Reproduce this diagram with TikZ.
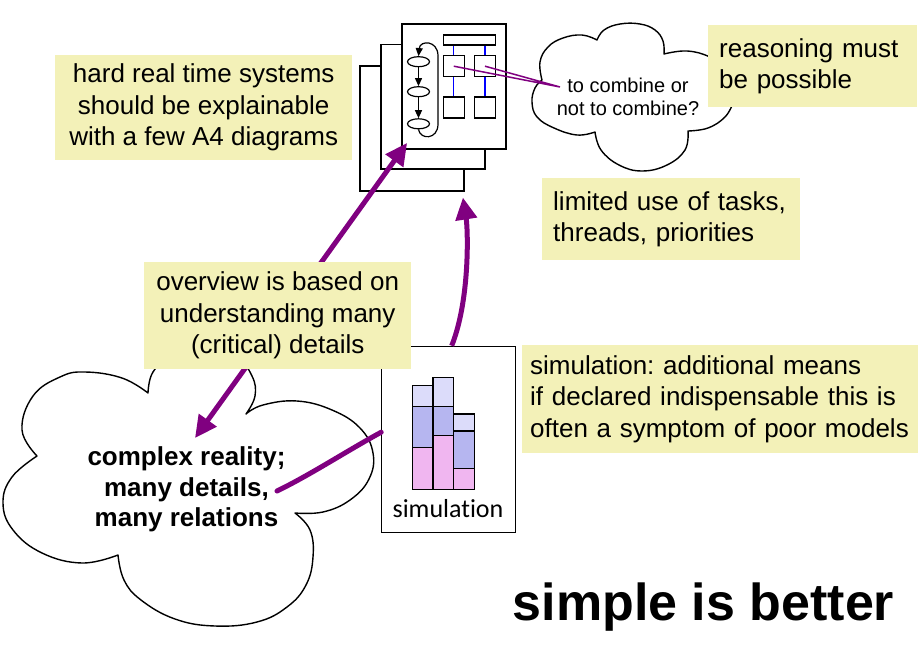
\documentclass[tikz,border=0pt]{standalone}
\usepackage{fontspec}
\setmainfont{Liberation Sans}
\newfontfamily\simfont[Ligatures=NoCommon]{Carlito}
\usepackage{tikz}
\usetikzlibrary{arrows.meta, positioning, shapes.geometric, calc}
\definecolor{notefill}{HTML}{F3F1B8}
\definecolor{relpurple}{HTML}{800080}
\definecolor{barpink}{HTML}{F0B6F0}
\definecolor{barlav}{HTML}{B6B6F0}
\definecolor{barpale}{HTML}{DCDCFA}
\frenchspacing
\begin{document}
\begin{tikzpicture}[x=1pt, y=-1pt,
  every node/.style={font=\fontsize{26}{31.5}\selectfont},
  >={Triangle[length=22pt,width=21pt]},
  note/.style={fill=notefill, inner sep=0pt, anchor=north west},
  page/.style={draw, fill=white, line width=1.8pt, minimum width=104pt, minimum height=124.5pt, inner sep=0pt},
  blk/.style={draw, line width=1.3pt, minimum size=21pt, inner sep=0pt},
  oval/.style={draw, ellipse, line width=1.2pt, minimum width=22pt, minimum height=10pt, inner sep=0pt},
  flowtip/.style={line width=1.2pt, -{Triangle[length=8pt,width=7pt]}},
  bigarrow/.style={relpurple, line width=5pt},
  cloudline/.style={draw, fill=white, line width=1.4pt, line join=round}]
  \fill[white] (0,0) rectangle (920,660);
  \useasboundingbox (0,0) rectangle (920,660);
  % the big cloud: complex reality
  \path[cloudline]
    plot[smooth, tension=0.7] coordinates {(118,555) (82,563) (42,553) (13,530) (3,503) (12,477) (37,456)}
    -- plot[smooth, tension=0.7] coordinates {(37,456) (22,430) (33,396) (60,377) (85,372) (122,378) (148,393)}
    -- plot[smooth, tension=0.7] coordinates {(148,393) (153,372) (172,356) (205,349) (236,357) (252,376) (255,396) (246,414)}
    -- plot[smooth, tension=0.7] coordinates {(246,414) (263,405) (297,401) (332,410) (360,428) (373,453) (369,479) (350,500) (323,512) (295,513)}
    -- plot[smooth, tension=0.7] coordinates {(295,513) (310,530) (313,557) (306,585) (287,607) (257,622) (215,626) (175,619) (141,600) (124,580) (118,555)}
    -- cycle;
  % the small cloud: the question
  \path[cloudline]
    plot[smooth, tension=0.7] coordinates {(595,132) (577,135) (554,128) (537,117) (532,102) (535,88) (542,80)}
    -- plot[smooth, tension=0.7] coordinates {(542,80) (540,62) (548,47) (563,38) (582,35) (597,40)}
    -- plot[smooth, tension=0.7] coordinates {(597,40) (604,30) (620,24) (640,24) (655,30) (663,41) (664,54)}
    -- plot[smooth, tension=0.7] coordinates {(664,54) (687,51) (710,57) (730,70) (738,88) (733,103)}
    -- plot[smooth, tension=0.7] coordinates {(733,103) (725,117) (708,128) (688,131)}
    -- plot[smooth, tension=0.7] coordinates {(688,131) (685,150) (667,165) (642,171) (619,165) (601,150) (595,132)}
    -- cycle;
  % a stack of A4 diagrams
  \node[page] (pgc) at (412,128.4) {};
  \node[page] (pgb) at (433,106.8) {};
  \node[page] (pga) at (453.7,86.5) {};
  \node[draw, line width=1.3pt, minimum width=52.4pt, minimum height=10pt, inner sep=0pt] (bar) at (469.5,40) {};
  \node[blk] (blka) at (453.8,66.2) {};
  \node[blk] (blkb) at (485,66.2) {};
  \node[blk] (blkc) at (453.8,107.6) {};
  \node[blk] (blkd) at (485,107.6) {};
  \foreach \b/\c in {blka/blkc, blkb/blkd}
    \draw[blue, line width=1.3pt] (\b.north |- bar.south) -- (\b.north) (\b.south) -- (\c.north);
  \node[oval] (loopa) at (418.5,61.7) {};
  \node[oval] (loopb) at (418.5,91.7) {};
  \node[oval] (loopc) at (418.5,123.8) {};
  \draw[flowtip] (loopa) -- (loopb);
  \draw[flowtip] (loopb) -- (loopc);
  \draw[flowtip] (loopc.south) .. controls (420,140) and (438,140) .. (438,124)
    -- (438,56) .. controls (438,40) and (420,40) .. (loopa.north);
  % simulation sheet
  \node[draw, fill=white, line width=1pt, minimum width=134pt, minimum height=186pt, inner sep=0pt] (sim) at (448.7,439.2) {};
  \foreach \x/\p/\m/\t in {412.3/447.3/406.3/385.3, 432.9/435.3/406.3/377.3, 453.5/468.3/431/414} {
    \filldraw[fill=barpink, line width=1.2pt] (\x,489.3) rectangle (\x+20.6,\p);
    \filldraw[fill=barlav, line width=1.2pt] (\x,\p) rectangle (\x+20.6,\m);
    \filldraw[fill=barpale, line width=1.2pt] (\x,\m) rectangle (\x+20.6,\t);
  }
  \node[font=\simfont\fontsize{26}{30}\selectfont, anchor=base] (simlabel) at (448,517) {simulation};
  % purple relations
  \coordinate (realtip) at (195,438);
  \coordinate (detailpt) at (277,491);
  \coordinate (askpt) at (560,87);
  \draw[bigarrow, <->] (realtip) -- ($(pga.south west)+(6.3,-6.7)$);
  \draw[bigarrow, ->] ($(sim.north)+(3,0)$) .. controls (470,300) and (468,230) .. ($(pgc.south east)+(-2,6)$);
  \draw[bigarrow, line cap=round] ($(sim.west)+(0,-7)$) .. controls (345,452) and (310,475) .. (detailpt);
  \draw[relpurple, line width=1.5pt] (blka.center) -- (askpt) (blkb.center) -- (askpt);
  % yellow notes
  \node[note, minimum width=297pt, minimum height=105pt, align=center] (hardrt) at (55,55)
    {hard real time systems\\ should be explainable\\ with a few A4 diagrams};
  \node[note, minimum height=82pt, text width=187pt, inner xsep=11pt, align=left] (reason) at (708,25)
    {reasoning must\\ be possible};
  \node[note, minimum height=82pt, text width=236pt, inner xsep=11pt, align=left] (limits) at (542,178)
    {limited use of tasks,\\ threads, priorities};
  \node[note, minimum width=267pt, minimum height=107pt, align=center] (overview) at (144,262)
    {overview is based on\\ understanding many\\ (critical) details};
  \node[note, minimum height=108pt, text width=380pt, inner xsep=8pt, align=left] (simnote) at (522,345)
    {simulation: additional means\\ if declared indispensable this is\\ often a symptom of poor models};
  % texts in the clouds
  \node[font=\fontsize{26}{30.5}\selectfont\bfseries, align=center] (reality) at (186.5,489.5)
    {complex reality;\\ many details,\\ many relations};
  \node[font=\fontsize{20}{23}\selectfont, align=center] (combine) at (628,96.5)
    {to combine or\\ not to combine?};
  \node[font=\fontsize{52}{60}\selectfont\bfseries, anchor=base] (motto) at (703.5,620) {simple is better};
\end{tikzpicture}
\end{document}
